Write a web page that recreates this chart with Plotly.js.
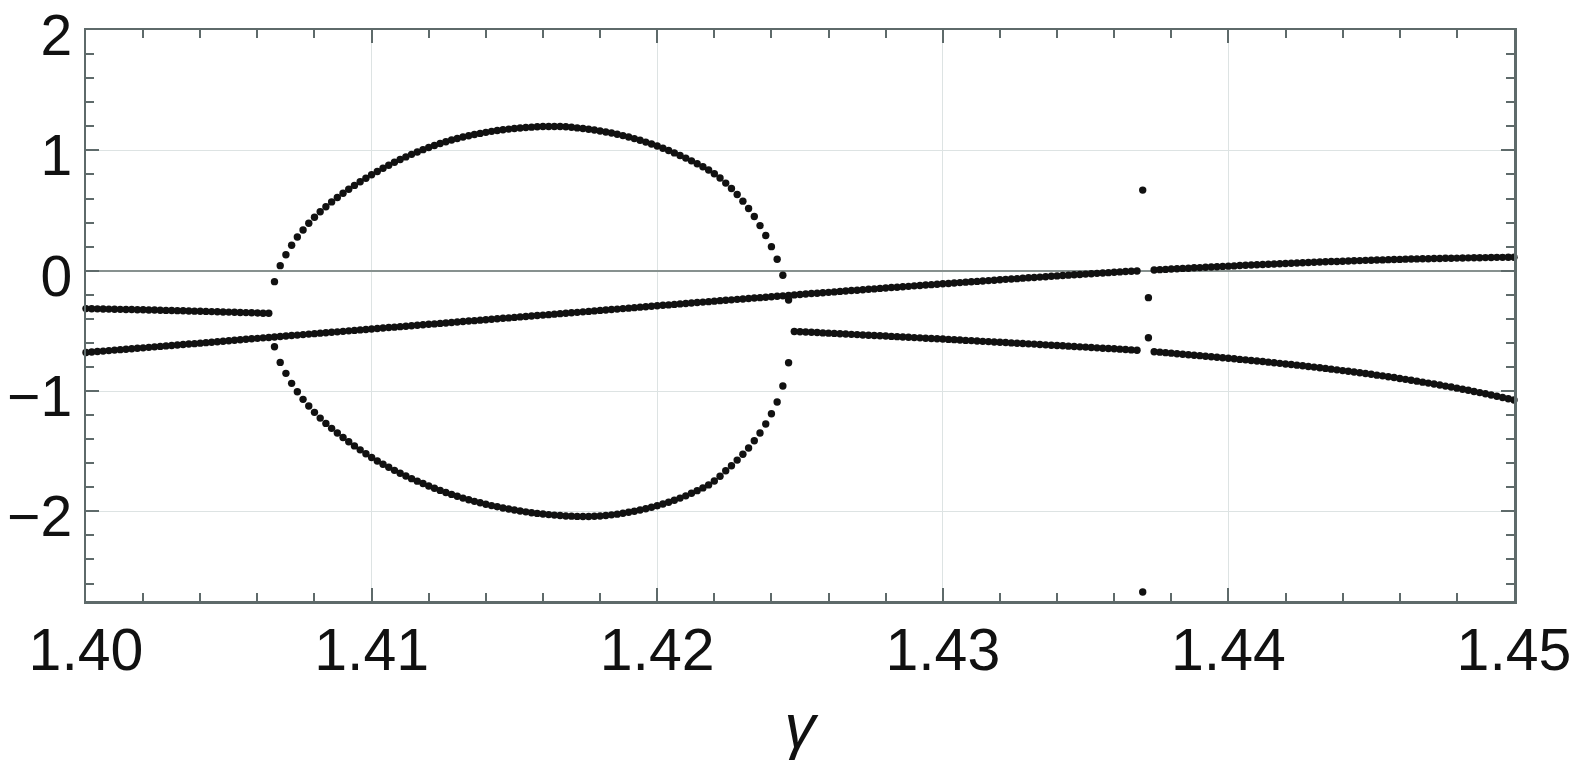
<!DOCTYPE html>
<html>
<head>
<meta charset="utf-8">
<script src="https://cdn.plot.ly/plotly-3.0.1.min.js"></script>
<style>html,body{margin:0;padding:0;background:#fff;}#chart{width:1578px;height:771px;}</style>
</head>
<body>
<div id="chart"></div>
<script>
// parameter grid (gamma), step 0.0002
const gamma = [
1.4000,1.4002,1.4004,1.4006,1.4008,1.4010,1.4012,1.4014,1.4016,1.4018,
1.4020,1.4022,1.4024,1.4026,1.4028,1.4030,1.4032,1.4034,1.4036,1.4038,
1.4040,1.4042,1.4044,1.4046,1.4048,1.4050,1.4052,1.4054,1.4056,1.4058,
1.4060,1.4062,1.4064,1.4066,1.4068,1.4070,1.4072,1.4074,1.4076,1.4078,
1.4080,1.4082,1.4084,1.4086,1.4088,1.4090,1.4092,1.4094,1.4096,1.4098,
1.4100,1.4102,1.4104,1.4106,1.4108,1.4110,1.4112,1.4114,1.4116,1.4118,
1.4120,1.4122,1.4124,1.4126,1.4128,1.4130,1.4132,1.4134,1.4136,1.4138,
1.4140,1.4142,1.4144,1.4146,1.4148,1.4150,1.4152,1.4154,1.4156,1.4158,
1.4160,1.4162,1.4164,1.4166,1.4168,1.4170,1.4172,1.4174,1.4176,1.4178,
1.4180,1.4182,1.4184,1.4186,1.4188,1.4190,1.4192,1.4194,1.4196,1.4198,
1.4200,1.4202,1.4204,1.4206,1.4208,1.4210,1.4212,1.4214,1.4216,1.4218,
1.4220,1.4222,1.4224,1.4226,1.4228,1.4230,1.4232,1.4234,1.4236,1.4238,
1.4240,1.4242,1.4244,1.4246,1.4248,1.4250,1.4252,1.4254,1.4256,1.4258,
1.4260,1.4262,1.4264,1.4266,1.4268,1.4270,1.4272,1.4274,1.4276,1.4278,
1.4280,1.4282,1.4284,1.4286,1.4288,1.4290,1.4292,1.4294,1.4296,1.4298,
1.4300,1.4302,1.4304,1.4306,1.4308,1.4310,1.4312,1.4314,1.4316,1.4318,
1.4320,1.4322,1.4324,1.4326,1.4328,1.4330,1.4332,1.4334,1.4336,1.4338,
1.4340,1.4342,1.4344,1.4346,1.4348,1.4350,1.4352,1.4354,1.4356,1.4358,
1.4360,1.4362,1.4364,1.4366,1.4368,1.4370,1.4372,1.4374,1.4376,1.4378,
1.4380,1.4382,1.4384,1.4386,1.4388,1.4390,1.4392,1.4394,1.4396,1.4398,
1.4400,1.4402,1.4404,1.4406,1.4408,1.4410,1.4412,1.4414,1.4416,1.4418,
1.4420,1.4422,1.4424,1.4426,1.4428,1.4430,1.4432,1.4434,1.4436,1.4438,
1.4440,1.4442,1.4444,1.4446,1.4448,1.4450,1.4452,1.4454,1.4456,1.4458,
1.4460,1.4462,1.4464,1.4466,1.4468,1.4470,1.4472,1.4474,1.4476,1.4478,
1.4480,1.4482,1.4484,1.4486,1.4488,1.4490,1.4492,1.4494,1.4496,1.4498,
1.4500
];

// rising branch over the whole grid (gap at 1.4370-1.4372)
const branchA = [
-0.680,-0.676,-0.672,-0.668,-0.664,-0.660,-0.656,-0.653,-0.649,-0.645,
-0.641,-0.637,-0.633,-0.629,-0.625,-0.621,-0.617,-0.613,-0.609,-0.606,
-0.602,-0.598,-0.594,-0.590,-0.586,-0.582,-0.578,-0.574,-0.570,-0.566,
-0.562,-0.558,-0.555,-0.551,-0.547,-0.543,-0.539,-0.535,-0.531,-0.527,
-0.523,-0.519,-0.515,-0.511,-0.508,-0.504,-0.500,-0.496,-0.492,-0.488,
-0.484,-0.480,-0.476,-0.472,-0.469,-0.465,-0.461,-0.457,-0.453,-0.449,
-0.445,-0.442,-0.438,-0.434,-0.430,-0.426,-0.422,-0.418,-0.415,-0.411,
-0.407,-0.403,-0.399,-0.395,-0.392,-0.388,-0.384,-0.380,-0.376,-0.372,
-0.369,-0.365,-0.361,-0.357,-0.353,-0.349,-0.346,-0.342,-0.338,-0.334,
-0.330,-0.326,-0.322,-0.319,-0.315,-0.311,-0.307,-0.303,-0.299,-0.295,
-0.291,-0.287,-0.284,-0.280,-0.276,-0.272,-0.268,-0.264,-0.261,-0.257,
-0.253,-0.249,-0.246,-0.242,-0.238,-0.235,-0.231,-0.227,-0.224,-0.220,
-0.216,-0.212,-0.209,-0.205,-0.201,-0.198,-0.194,-0.190,-0.187,-0.183,
-0.180,-0.176,-0.172,-0.169,-0.165,-0.162,-0.158,-0.154,-0.151,-0.147,
-0.144,-0.140,-0.137,-0.133,-0.130,-0.126,-0.123,-0.119,-0.116,-0.112,
-0.109,-0.106,-0.102,-0.099,-0.095,-0.092,-0.089,-0.085,-0.082,-0.079,
-0.075,-0.072,-0.069,-0.066,-0.062,-0.059,-0.056,-0.053,-0.050,-0.046,
-0.043,-0.040,-0.037,-0.034,-0.031,-0.028,-0.025,-0.022,-0.019,-0.016,
-0.013,-0.010,-0.007,-0.005,-0.002,null,null,0.006,0.009,0.011,
0.014,0.016,0.019,0.021,0.024,0.026,0.029,0.031,0.033,0.036,
0.038,0.040,0.043,0.045,0.047,0.049,0.052,0.054,0.056,0.058,
0.060,0.062,0.064,0.066,0.068,0.070,0.072,0.074,0.076,0.077,
0.079,0.081,0.083,0.084,0.086,0.087,0.089,0.090,0.092,0.093,
0.094,0.096,0.097,0.098,0.099,0.100,0.101,0.102,0.103,0.104,
0.105,0.106,0.107,0.108,0.108,0.109,0.110,0.111,0.111,0.112,
0.112
];

// short left branch, gamma 1.4000-1.4064 (grid index 0..32)
const branchBStart = 0;
const branchB = [
-0.315,-0.316,-0.317,-0.318,-0.319,-0.320,-0.321,-0.322,-0.323,-0.324,
-0.325,-0.326,-0.327,-0.328,-0.330,-0.331,-0.332,-0.333,-0.335,-0.336,
-0.337,-0.338,-0.340,-0.341,-0.343,-0.344,-0.345,-0.347,-0.348,-0.350,
-0.351,-0.353,-0.354
];

// closed loop, gamma 1.4066-1.4246 (grid index 33..123)
const loopStart = 33;
const loopUpper = [
-0.091,0.042,0.133,0.211,0.280,0.338,0.394,0.444,0.490,0.532,
0.572,0.609,0.644,0.677,0.709,0.739,0.768,0.797,0.825,0.852,
0.877,0.901,0.924,0.946,0.967,0.987,1.006,1.024,1.041,1.057,
1.072,1.086,1.099,1.111,1.122,1.132,1.141,1.150,1.158,1.165,
1.171,1.177,1.182,1.186,1.190,1.193,1.196,1.198,1.199,1.199,
1.198,1.196,1.192,1.187,1.182,1.176,1.169,1.161,1.153,1.144,
1.134,1.123,1.111,1.098,1.084,1.069,1.053,1.036,1.018,0.999,
0.979,0.958,0.936,0.913,0.889,0.864,0.837,0.806,0.770,0.728,
0.683,0.633,0.578,0.517,0.450,0.375,0.292,0.200,0.095,-0.038,
-0.244
];
const loopLower = [
-0.632,-0.762,-0.853,-0.936,-1.006,-1.069,-1.125,-1.177,-1.225,-1.269,
-1.310,-1.349,-1.386,-1.422,-1.456,-1.489,-1.521,-1.552,-1.581,-1.608,
-1.634,-1.659,-1.683,-1.706,-1.728,-1.749,-1.769,-1.789,-1.808,-1.826,
-1.843,-1.859,-1.875,-1.890,-1.904,-1.917,-1.929,-1.941,-1.952,-1.962,
-1.972,-1.981,-1.989,-1.997,-2.004,-2.011,-2.017,-2.022,-2.027,-2.031,
-2.035,-2.038,-2.040,-2.042,-2.043,-2.043,-2.041,-2.038,-2.034,-2.029,
-2.023,-2.016,-2.008,-1.999,-1.989,-1.978,-1.966,-1.953,-1.939,-1.924,
-1.908,-1.890,-1.871,-1.850,-1.828,-1.805,-1.780,-1.748,-1.708,-1.663,
-1.621,-1.574,-1.526,-1.474,-1.413,-1.349,-1.274,-1.189,-1.091,-0.958,
-0.765
];

// lower right branch, gamma 1.4248-1.4500 (grid index 124..250, gap at 1.4370-1.4372)
const branchCStart = 124;
const branchC = [
-0.505,-0.507,-0.510,-0.512,-0.514,-0.517,-0.519,-0.521,-0.524,-0.526,
-0.529,-0.531,-0.534,-0.536,-0.538,-0.541,-0.543,-0.546,-0.548,-0.551,
-0.553,-0.556,-0.558,-0.561,-0.563,-0.566,-0.568,-0.571,-0.573,-0.576,
-0.579,-0.581,-0.584,-0.587,-0.589,-0.592,-0.595,-0.597,-0.600,-0.603,
-0.605,-0.608,-0.610,-0.613,-0.616,-0.619,-0.621,-0.624,-0.627,-0.630,
-0.633,-0.635,-0.638,-0.641,-0.644,-0.647,-0.649,-0.652,-0.655,-0.658,
-0.661,null,null,
-0.673,-0.677,-0.681,-0.685,-0.690,-0.694,-0.698,-0.702,-0.706,-0.711,
-0.715,-0.719,-0.724,-0.728,-0.732,-0.737,-0.741,-0.746,-0.751,-0.755,
-0.760,-0.765,-0.770,-0.775,-0.780,-0.785,-0.790,-0.796,-0.801,-0.807,
-0.812,-0.818,-0.824,-0.830,-0.836,-0.842,-0.848,-0.854,-0.861,-0.868,
-0.874,-0.881,-0.888,-0.896,-0.903,-0.910,-0.918,-0.926,-0.934,-0.942,
-0.950,-0.959,-0.967,-0.976,-0.985,-0.994,-1.004,-1.013,-1.023,-1.033,
-1.043,-1.054,-1.064,-1.075
];

// isolated points at the crossing near gamma = 1.437
const isolatedX = [1.4370, 1.4370, 1.4372, 1.4372];
const isolatedY = [0.670, -2.670, -0.224, -0.557];

const xTickVals = [1.40, 1.41, 1.42, 1.43, 1.44, 1.45];
const xTickText = ['1.40', '1.41', '1.42', '1.43', '1.44', '1.45'];
const yTickVals = [-2, -1, 0, 1, 2];
const yTickText = ['\u22122', '\u22121', '0', '1', '2'];

const dot = {size: 7.4, color: '#111111'};
function branch(xs, ys) {
  return {x: xs, y: ys, type: 'scatter', mode: 'markers', marker: dot, hoverinfo: 'skip', showlegend: false, cliponaxis: false};
}

const traces = [
  branch(gamma, branchA),
  branch(gamma.slice(branchBStart, branchBStart + branchB.length), branchB),
  branch(gamma.slice(loopStart, loopStart + loopUpper.length), loopUpper),
  branch(gamma.slice(loopStart, loopStart + loopLower.length), loopLower),
  branch(gamma.slice(branchCStart, branchCStart + branchC.length), branchC),
  branch(isolatedX, isolatedY)
];

const frame = '#5e6a6a';
const font = 'Liberation Sans, Arial, Helvetica, sans-serif';

const layout = {
  width: 1578, height: 771,
  margin: {l: 86, r: 64, t: 30, b: 170},
  paper_bgcolor: '#ffffff', plot_bgcolor: '#ffffff',
  font: {family: font, color: '#111111'},
  xaxis: {
    range: [1.40, 1.45],
    tickmode: 'array', tickvals: xTickVals, ticktext: xTickText,
    ticks: 'inside', ticklen: 13, tickwidth: 2, tickcolor: frame,
    showline: true, linecolor: frame, linewidth: 2.5, mirror: 'ticks',
    showgrid: true, gridcolor: '#dde3e3', gridwidth: 1, zeroline: false,
    minor: {dtick: 0.002, tick0: 1.40, ticks: 'inside', ticklen: 8, tickwidth: 2, tickcolor: frame, showgrid: false},
    tickfont: {family: font, size: 59, color: '#111111'},
    ticklabelstandoff: -4,
    ticklabeloverflow: 'allow',
    title: {text: '<i>γ</i>', font: {family: font, size: 62, color: '#111111'}, standoff: 22}
  },
  yaxis: {
    range: [-2.745, 2.0005],
    tickmode: 'array', tickvals: yTickVals, ticktext: yTickText,
    ticks: 'inside', ticklen: 13, tickwidth: 2, tickcolor: frame,
    showline: true, linecolor: frame, linewidth: 2.5, mirror: 'ticks',
    showgrid: true, gridcolor: '#dde3e3', gridwidth: 1,
    zeroline: true, zerolinecolor: '#87918f', zerolinewidth: 1.6,
    minor: {dtick: 0.2, tick0: 0, ticks: 'inside', ticklen: 8, tickwidth: 2, tickcolor: frame, showgrid: false},
    tickfont: {family: font, size: 57, color: '#111111'},
    ticklabelshift: 5,
    ticklabeloverflow: 'allow'
  }
};

Plotly.newPlot('chart', traces, layout, {displayModeBar: false, staticPlot: true});
</script>
</body>
</html>
